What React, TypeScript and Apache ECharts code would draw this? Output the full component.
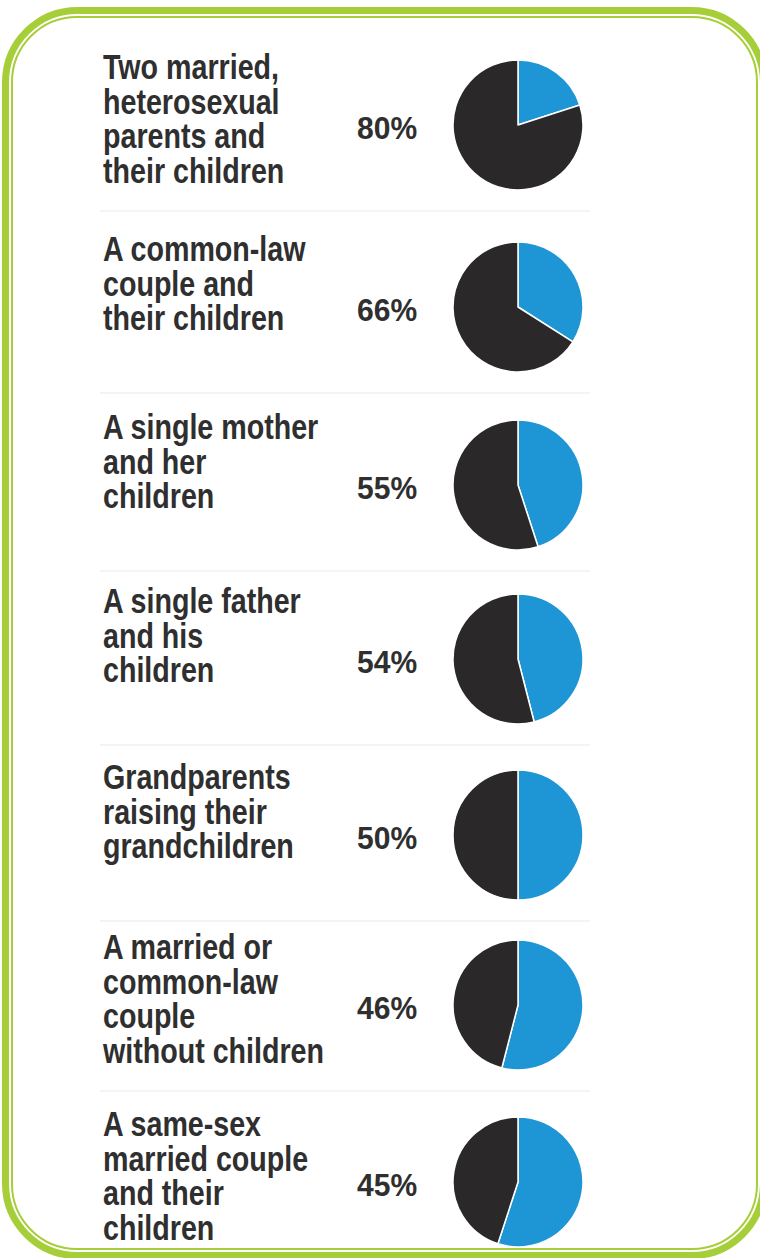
import React, { useEffect, useRef } from "react";
import * as echarts from "echarts";

const categories = [
  "Two married,\nheterosexual\nparents and\ntheir children",
  "A common-law\ncouple and\ntheir children",
  "A single mother\nand her\nchildren",
  "A single father\nand his\nchildren",
  "Grandparents\nraising their\ngrandchildren",
  "A married or\ncommon-law\ncouple\nwithout children",
  "A same-sex\nmarried couple\nand their\nchildren",
];
const values = [80, 66, 55, 54, 50, 46, 45];

// layout (pixels)
const rowCenters = [125, 307, 485, 659, 835, 1005, 1182];
const pieX = 518;
const pieR = 65;
const labelX = 103;
const pctX = 357;

const DARK = "#2b2829";
const BLUE = "#1e96d5";
const GREEN = "#a6ce39";
const TEXT = "#2f2f2f";

export default function App() {
  const ref = useRef<HTMLDivElement>(null);
  useEffect(() => {
    if (!ref.current) return;
    const chart = echarts.init(ref.current, null, { renderer: "svg" });
    const series = values.map((v, i) => ({
      type: "pie",
      center: [pieX, rowCenters[i]],
      radius: pieR,
      startAngle: 90,
      clockwise: true,
      silent: true,
      label: { show: false },
      labelLine: { show: false },
      emphasis: { disabled: true },
      itemStyle: { borderColor: "#ffffff", borderWidth: 1.5 },
      data: [
        { name: "other", value: 100 - v, itemStyle: { color: BLUE } },
        { name: categories[i], value: v, itemStyle: { color: DARK } },
      ],
    }));
    const graphics: any[] = [
      {
        type: "rect",
        shape: { x: 5.5, y: 10.5, width: 758, height: 1245, r: 72 },
        style: { fill: "none", stroke: GREEN, lineWidth: 7 },
        silent: true,
      },
      {
        type: "rect",
        shape: { x: 12, y: 17, width: 745, height: 1232, r: 65 },
        style: { fill: "none", stroke: GREEN, lineWidth: 2 },
        silent: true,
      },
    ];
    rowCenters.forEach((cy, i) => {
      if (i < rowCenters.length - 1) {
        graphics.push({
          type: "line",
          shape: { x1: 100, y1: cy + 86, x2: 590, y2: cy + 86 },
          style: { stroke: "#f0f0f0", lineWidth: 1.5 },
          silent: true,
        });
      }
      graphics.push({
        type: "text",
        x: labelX,
        y: cy - 75,
        scaleX: 0.83,
        silent: true,
        style: {
          text: categories[i],
          fill: TEXT,
          font: 'bold 34.5px "Liberation Sans", Arial, sans-serif',
          lineHeight: 34.5,
          align: "left",
          verticalAlign: "top",
        },
      });
      graphics.push({
        type: "text",
        x: pctX,
        y: cy + 3,
        scaleX: 0.97,
        silent: true,
        style: {
          text: values[i] + "%",
          fill: TEXT,
          font: 'bold 31px "Liberation Sans", Arial, sans-serif',
          align: "left",
          verticalAlign: "middle",
        },
      });
    });
    chart.setOption({
      animation: false,
      backgroundColor: "#ffffff",
      series,
      graphic: graphics,
    });
    return () => chart.dispose();
  }, []);
  return (
    <div
      ref={ref}
      style={{ position: "fixed", left: 0, top: 0, width: 760, height: 1258 }}
    />
  );
}
